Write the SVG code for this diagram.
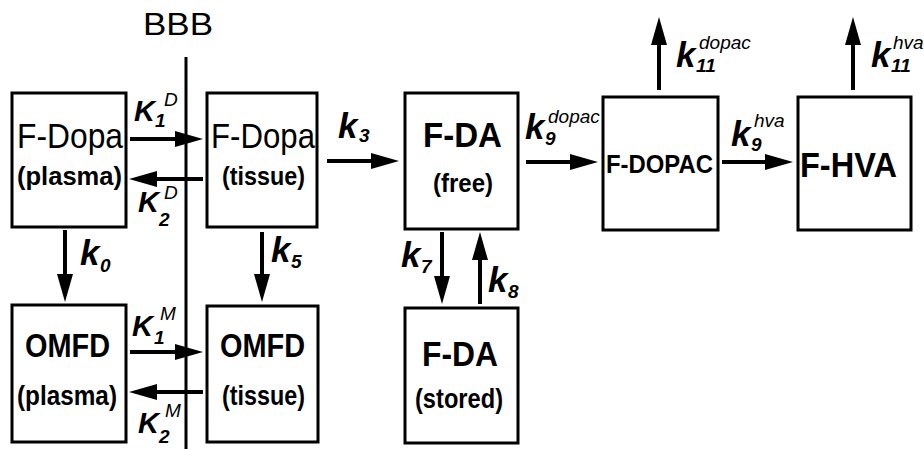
<svg xmlns="http://www.w3.org/2000/svg" width="924" height="449" viewBox="0 0 924 449">
<defs>
<marker id="ah" viewBox="0 -9 30 18" refX="0" refY="0" markerWidth="30" markerHeight="18" markerUnits="userSpaceOnUse" orient="auto">
<path d="M0,-8 L28,0 L0,8 Z" fill="#000"/>
</marker>
<style>
.box{fill:#fff;stroke:#000;stroke-width:3}
.t{font-family:"Liberation Sans",Arial,sans-serif;fill:#000}
.b{font-weight:bold}
.ar{stroke:#000;stroke-width:4;fill:none;marker-end:url(#ah)}
.k{font-family:"Liberation Sans",Arial,sans-serif;font-weight:bold;font-style:italic;fill:#000}
.sub{font-size:19px}
.sup{font-size:19px;font-weight:normal}
</style>
</defs>
<rect width="924" height="449" fill="#fff"/>

<g id="bbb">
<line x1="186" y1="57" x2="186" y2="449" stroke="#000" stroke-width="3"/>
<text class="t" x="143" y="35" font-size="31" textLength="70" lengthAdjust="spacingAndGlyphs">BBB</text>
</g>

<g id="fdopa-plasma">
<rect class="box" x="12" y="93" width="114" height="134"/>
<text class="t" x="17" y="148" font-size="35" textLength="106" lengthAdjust="spacingAndGlyphs">F-Dopa</text>
<text class="t b" x="17" y="185" font-size="25" textLength="105" lengthAdjust="spacingAndGlyphs">(plasma)</text>
</g>

<g id="fdopa-tissue">
<rect class="box" x="207" y="93" width="110" height="134"/>
<text class="t" x="211" y="148" font-size="35" textLength="104" lengthAdjust="spacingAndGlyphs">F-Dopa</text>
<text class="t b" x="222" y="185" font-size="25" textLength="83" lengthAdjust="spacingAndGlyphs">(tissue)</text>
</g>

<g id="fda-free">
<rect class="box" x="405" y="93" width="113" height="136"/>
<text class="t b" x="423" y="147" font-size="35" textLength="79" lengthAdjust="spacingAndGlyphs">F-DA</text>
<text class="t b" x="433" y="192" font-size="25" textLength="60" lengthAdjust="spacingAndGlyphs">(free)</text>
</g>

<g id="fdopac">
<rect class="box" x="603" y="97" width="115" height="133"/>
<text class="t b" x="606" y="173" font-size="25" textLength="107" lengthAdjust="spacingAndGlyphs">F-DOPAC</text>
</g>

<g id="fhva">
<rect class="box" x="798" y="97" width="113" height="133"/>
<text class="t b" x="800" y="177" font-size="35" textLength="97" lengthAdjust="spacingAndGlyphs">F-HVA</text>
</g>

<g id="omfd-plasma">
<rect class="box" x="12" y="305" width="114" height="137"/>
<text class="t b" x="25" y="357" font-size="33" textLength="85" lengthAdjust="spacingAndGlyphs">OMFD</text>
<text class="t b" x="17" y="405" font-size="27" textLength="100" lengthAdjust="spacingAndGlyphs">(plasma)</text>
</g>

<g id="omfd-tissue">
<rect class="box" x="207" y="306" width="111" height="136"/>
<text class="t b" x="220" y="357" font-size="33" textLength="85" lengthAdjust="spacingAndGlyphs">OMFD</text>
<text class="t b" x="222" y="405" font-size="27" textLength="83" lengthAdjust="spacingAndGlyphs">(tissue)</text>
</g>

<g id="fda-stored">
<rect class="box" x="405" y="308" width="113" height="135"/>
<text class="t b" x="422" y="366" font-size="35" textLength="76" lengthAdjust="spacingAndGlyphs">F-DA</text>
<text class="t b" x="415" y="408" font-size="27" textLength="88" lengthAdjust="spacingAndGlyphs">(stored)</text>
</g>

<g id="connectors">
<line class="ar" x1="130" y1="139" x2="175" y2="139"/>
<line class="ar" x1="203" y1="179" x2="157" y2="179"/>
<line class="ar" x1="130" y1="352" x2="175" y2="352"/>
<line class="ar" x1="203" y1="392" x2="157" y2="392"/>
<line class="ar" x1="327" y1="161" x2="371" y2="161"/>
<line class="ar" x1="526" y1="162" x2="570" y2="162"/>
<line class="ar" x1="722" y1="162" x2="765" y2="162"/>
<line class="ar" x1="65" y1="230" x2="65" y2="274"/>
<line class="ar" x1="262" y1="232" x2="262" y2="274"/>
<line class="ar" x1="442" y1="232" x2="442" y2="276"/>
<line class="ar" x1="480" y1="304" x2="480" y2="260"/>
<line class="ar" x1="659" y1="90" x2="659" y2="45"/>
<line class="ar" x1="853" y1="90" x2="853" y2="45"/>
</g>

<g id="labels">
<text class="k" font-size="29"><tspan x="134" y="121">K</tspan><tspan class="sub" x="155" y="127">1</tspan><tspan class="sup" x="164" y="106">D</tspan></text>
<text class="k" font-size="29"><tspan x="138" y="212">K</tspan><tspan class="sub" x="159" y="226">2</tspan><tspan class="sup" x="164" y="199">D</tspan></text>
<text class="k" font-size="29"><tspan x="132" y="336">K</tspan><tspan class="sub" x="154" y="344">1</tspan><tspan class="sup" x="160" y="320">M</tspan></text>
<text class="k" font-size="29"><tspan x="138" y="433">K</tspan><tspan class="sub" x="159" y="443">2</tspan><tspan class="sup" x="165" y="417">M</tspan></text>
<text class="k" font-size="35"><tspan x="338" y="138">k</tspan><tspan class="sub" x="359" y="142">3</tspan></text>
<text class="k" font-size="35"><tspan x="525" y="139">k</tspan><tspan class="sub" x="545" y="145">9</tspan><tspan class="sup" x="548" y="123">dopac</tspan></text>
<text class="k" font-size="35"><tspan x="731" y="146">k</tspan><tspan class="sub" x="751" y="151">9</tspan><tspan class="sup" x="754" y="127">hva</tspan></text>
<text class="k" font-size="35"><tspan x="676" y="67">k</tspan><tspan class="sub" x="696" y="72">11</tspan><tspan class="sup" x="699" y="49">dopac</tspan></text>
<text class="k" font-size="35"><tspan x="871" y="67">k</tspan><tspan class="sub" x="891" y="72">11</tspan><tspan class="sup" x="893" y="49">hva</tspan></text>
<text class="k" font-size="35"><tspan x="80" y="265">k</tspan><tspan class="sub" x="100" y="272">0</tspan></text>
<text class="k" font-size="35"><tspan x="271" y="262">k</tspan><tspan class="sub" x="291" y="268">5</tspan></text>
<text class="k" font-size="35"><tspan x="401" y="267">k</tspan><tspan class="sub" x="421" y="273">7</tspan></text>
<text class="k" font-size="35"><tspan x="488" y="292">k</tspan><tspan class="sub" x="508" y="298">8</tspan></text>
</g>
</svg>
